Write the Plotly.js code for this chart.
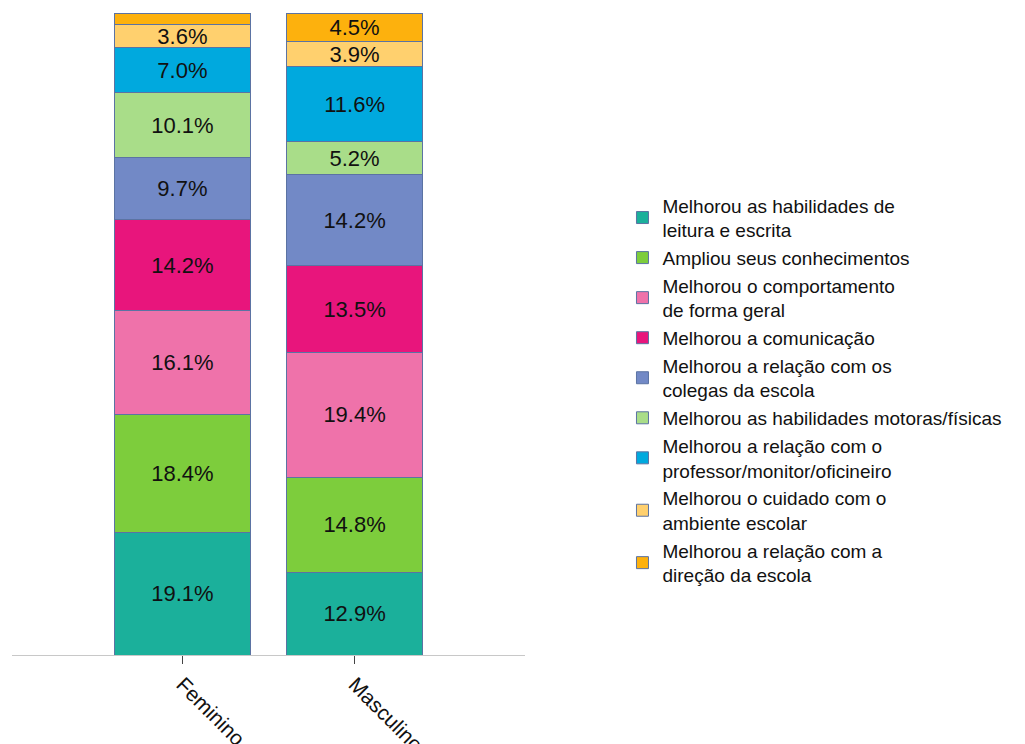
<!DOCTYPE html>
<html>
<head>
<meta charset="utf-8">
<script src="https://cdn.plot.ly/plotly-3.0.1.min.js"></script>
<style>html,body{margin:0;padding:0;background:#fff;}#chart{width:1025px;height:744px;}</style>
</head>
<body>
<div id="chart"></div>
<script>
var categories = ["Feminino", "Masculino"];
var seriesNames = [
  "Melhorou as habilidades de<br>leitura e escrita",
  "Ampliou seus conhecimentos",
  "Melhorou o comportamento<br>de forma geral",
  "Melhorou a comunicação",
  "Melhorou a relação com os<br>colegas da escola",
  "Melhorou as habilidades motoras/físicas",
  "Melhorou a relação com o<br>professor/monitor/oficineiro",
  "Melhorou o cuidado com o<br>ambiente escolar",
  "Melhorou a relação com a<br>direção da escola"
];
var leituraEscrita   = [19.1, 12.9];
var conhecimentos    = [18.4, 14.8];
var comportamento    = [16.1, 19.4];
var comunicacao      = [14.2, 13.5];
var colegas          = [9.7, 14.2];
var motoras          = [10.1, 5.2];
var professor        = [7.0, 11.6];
var ambiente         = [3.6, 3.9];
var direcao          = [1.8, 4.5];
var seriesValues = [leituraEscrita, conhecimentos, comportamento, comunicacao, colegas, motoras, professor, ambiente, direcao];
var colors = ["#1bb09b", "#7dcd3c", "#ef72aa", "#e8157c", "#7289c6", "#a9dd89", "#00a9de", "#ffd06e", "#fdb10d"];

var traces = seriesValues.map(function (vals, i) {
  return {
    type: "bar",
    name: seriesNames[i],
    x: categories,
    y: vals,
    width: 0.79,
    text: vals.map(function (v) { return v >= 3 ? v.toFixed(1) + "%" : ""; }),
    textposition: "inside",
    insidetextanchor: "middle",
    textangle: 0,
    textfont: {color: "#111", size: 22, family: "Liberation Sans, Arial, sans-serif"},
    constraintext: "none",
    hoverinfo: "skip",
    marker: {color: colors[i], line: {color: "#5b73a3", width: 1}}
  };
});

var layout = {
  width: 1025, height: 744,
  barmode: "stack",
  showlegend: true,
  margin: {l: 12, r: 500, t: 13, b: 89},
  paper_bgcolor: "#fff", plot_bgcolor: "#fff",
  font: {family: "Liberation Sans, Arial, sans-serif", color: "#111"},
  xaxis: {
    range: [-0.99, 1.99],
    showline: true, linecolor: "#c8c8c8", linewidth: 1,
    ticks: "outside", ticklen: 8, tickcolor: "#444",
    tickangle: 45,
    tickfont: {size: 21, color: "#111"},
    showgrid: false, zeroline: false
  },
  yaxis: {range: [0, 100], visible: false, showgrid: false, zeroline: false},
  legend: {
    x: 1.19, xanchor: "left", y: 0.73, yanchor: "top",
    traceorder: "normal",
    font: {size: 19, color: "#111"},
    tracegroupgap: 0,
    itemclick: false
  }
};

Plotly.newPlot("chart", traces, layout, {displayModeBar: false, staticPlot: true});
</script>
</body>
</html>
